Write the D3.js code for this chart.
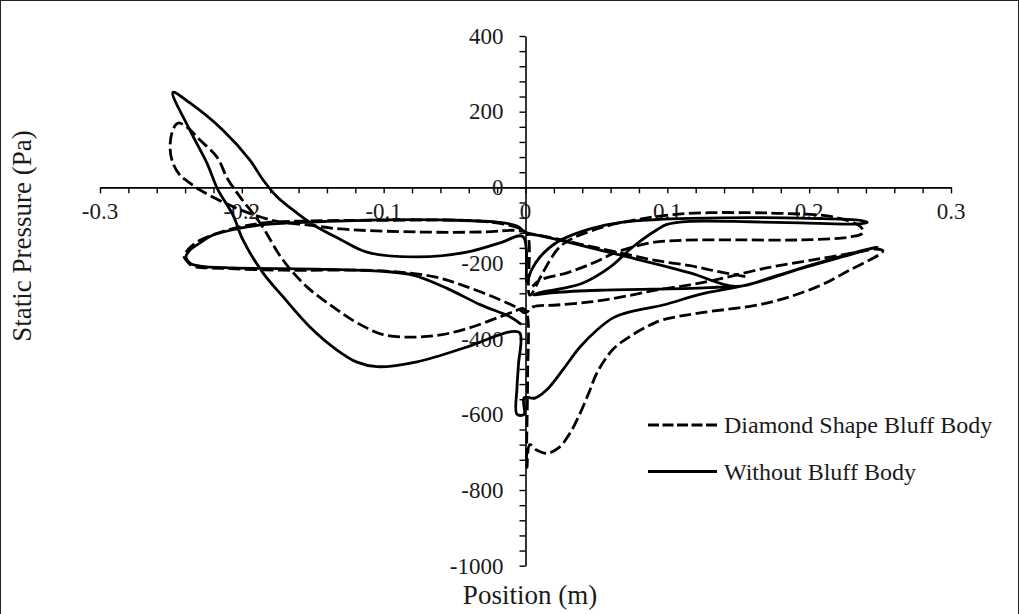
<!DOCTYPE html>
<html>
<head>
<meta charset="utf-8">
<script src="https://cdn.jsdelivr.net/npm/d3@7"></script>
<style>
  body { margin: 0; background: #fff; }
  svg { display: block; }
  text { font-family: "Liberation Serif", "Times New Roman", serif; fill: #1a1a1a; }
</style>
</head>
<body>
<svg id="chart" width="1019" height="614"></svg>
<script>
// Series names, ticks and labels
const seriesNames = ["Diamond Shape Bluff Body", "Without Bluff Body"];
const xMajorTicks = [-0.3, -0.2, -0.1, 0, 0.1, 0.2, 0.3];
const xTickLabels = ["-0.3", "-0.2", "-0.1", "0", "0.1", "0.2", "0.3"];
const yMajorTicks = [400, 200, 0, -200, -400, -600, -800, -1000];
const yTickLabels = ["400", "200", "0", "-200", "-400", "-600", "-800", "-1000"];
const axisTitles = { x: "Position (m)", y: "Static Pressure (Pa)" };

// Static pressure along the sampling line, in export order: [position (m), pressure (Pa)]
const diamondShape = [
  [0.155,-236],[0.135,-222],[0.116,-207],[0.0927,-194],[0.0688,-175],[0.0455,-156],[0.0222,-136],[0.006,-124],[0.001,-120],
  [-0.006,-106],[-0.03,-90],[-0.1005,-87],[-0.152,-89],[-0.1823,-93],[-0.2063,-109],[-0.2295,-140],[-0.238,-165],[-0.2408,-182],
  [-0.238,-198],[-0.2345,-208],[-0.2084,-215],[-0.171,-219],[-0.1005,-221],[-0.0649,-236],[-0.0413,-263],[-0.018,-297],[-0.006,-318],[0,-332],
  [0.0053,-316],[0.0222,-311],[0.0455,-303],[0.0688,-289],[0.0927,-271],[0.116,-258],[0.137,-242],[0.17,-213],[0.2055,-190],[0.236,-170],[0.247,-163],[0.252,-168],
  [0.25,-176],[0.229,-218],[0.2055,-263],[0.17,-306],[0.123,-332],[0.097,-350],[0.0857,-368],[0.0737,-394],[0.0617,-428],[0.0504,-490],[0.045,-540],[0.0384,-598],[0.031,-652],[0.0235,-688],[0.0152,-703],[0.0081,-695],[0.003,-680],[0.001,-740],
  [0.0015,-500],[0.001,-335],[-0.002,-320],
  [-0.008,-328],[-0.02,-345],[-0.04,-372],[-0.06,-390],[-0.08,-396],[-0.1005,-389],[-0.1188,-358],[-0.1357,-316],[-0.1541,-263],[-0.171,-192],[-0.1872,-94],[-0.2013,-25],[-0.21,22],[-0.2175,80],[-0.2295,125],[-0.2387,159],[-0.245,170],
  [-0.2486,152],[-0.2506,106],[-0.2486,64],[-0.2436,32],[-0.2387,17],[-0.2295,-7],[-0.2133,-39],[-0.1964,-66],[-0.1752,-90],[-0.1541,-99],[-0.1308,-110],[-0.0765,-118],[-0.03,-118],[-0.006,-114],[0.001,-121],
  [0.003,-285],[0.0102,-240],[0.0173,-192],[0.0243,-157],[0.0335,-134],[0.0575,-102],[0.0807,-84],[0.104,-72],[0.13,-67],[0.1583,-67],[0.1815,-69],[0.2168,-78],[0.2359,-103],[0.238,-120],
  [0.229,-131],[0.1936,-139],[0.15,-139],[0.111,-140],[0.0878,-147],[0.0645,-171],[0.0476,-200],[0.0293,-226],[0.0102,-245],[0.005,-262]
];

const withoutBluff = [
  [0.148,-262],[0.135,-264],[0.116,-267],[0.0525,-272],[0.02,-278],[0.0053,-284],
  [0.0123,-276],[0.025,-268],[0.0405,-253],[0.0596,-211],[0.0758,-157],[0.0927,-112],[0.0998,-98],[0.116,-90],[0.158,-91],[0.194,-94],[0.225,-97],[0.237,-96],[0.241,-92],
  [0.236,-87],[0.2,-82],[0.16,-80],[0.116,-82],[0.0927,-85],[0.0688,-92],[0.0455,-110],[0.0222,-145],[0.0102,-184],[0.004,-220],[0.001,-250],
  [-0.0018,-130],[-0.018,-147],[-0.0413,-171],[-0.0765,-184],[-0.1118,-171],[-0.1308,-137],[-0.147,-105],[-0.1611,-68],[-0.1752,-25],[-0.1851,20],[-0.1943,72],[-0.2133,151],[-0.2366,223],[-0.2486,251],
  [-0.2366,151],[-0.2246,64],[-0.2168,-7],[-0.2063,-73],[-0.1992,-139],[-0.1851,-226],[-0.171,-289],[-0.152,-369],[-0.1329,-430],[-0.1188,-462],[-0.1047,-474],[-0.0765,-461],[-0.0413,-422],[-0.011,-382],[-0.004,-385],
  [-0.005,-470],[-0.006,-530],[-0.006,-600],[-0.001,-600],[-0.001,-556],[0.0067,-557],
  [0.015,-535],[0.0264,-482],[0.0384,-422],[0.0504,-377],[0.0617,-345],[0.0737,-329],[0.097,-311],[0.123,-283],[0.1583,-256],[0.194,-215],[0.225,-182],[0.248,-157],
  [0.225,-180],[0.2,-207],[0.175,-236],[0.148,-262],
  [0.116,-226],[0.07,-182],[0.03,-145],[0.008,-126],[0.001,-122],
  [-0.006,-102],[-0.02,-92],[-0.06,-86],[-0.1005,-86],[-0.147,-91],[-0.171,-95],[-0.19,-101],[-0.2063,-112],[-0.2215,-128],[-0.2295,-147],[-0.2366,-166],[-0.2394,-184],
  [-0.2366,-200],[-0.2295,-208],[-0.2063,-213],[-0.147,-216],[-0.1005,-222],[-0.0793,-232],[-0.0553,-267],[-0.032,-310],[-0.011,-342],[-0.003,-362]
];

const svg = d3.select("#chart");
const W = 1019, H = 614;
const TICK_FONT = 23, LEGEND_FONT = 24, TITLE_FONT = 27;

// Outer chart frame
svg.append("rect")
  .attr("x", 0.5).attr("y", 0.5)
  .attr("width", W - 1).attr("height", H + 10)
  .attr("fill", "#fff").attr("stroke", "#222").attr("stroke-width", 1);

const x = d3.scaleLinear().domain([-0.3, 0.3]).range([100, 951]);
const y = d3.scaleLinear().domain([-1000, 400]).range([565.7, 36]);

const xMinor = d3.range(-30, 31, 2).map(v => v / 100);
const yMinor = d3.range(-1000, 401, 40);

// Horizontal axis crosses at pressure 0
const gx = svg.append("g").attr("transform", `translate(0,${y(0)})`);
gx.call(d3.axisBottom(x).tickValues(xMinor).tickSize(6).tickSizeOuter(0).tickFormat(""));
gx.selectAll("path.domain").attr("stroke", "#000").attr("stroke-width", 1.6);
gx.selectAll(".tick line").attr("stroke", "#000").attr("stroke-width", 1.4);

gx.selectAll("text.xlab")
  .data(xMajorTicks)
  .enter().append("text")
  .attr("class", "xlab")
  .attr("x", d => x(d))
  .attr("y", 31.5)
  .attr("text-anchor", "middle")
  .style("font-size", TICK_FONT + "px")
  .text((d, i) => xTickLabels[i]);

// Vertical axis crosses at position 0
const gy = svg.append("g").attr("transform", `translate(${x(0)},0)`);
gy.call(d3.axisLeft(y).tickValues(yMinor).tickSize(6).tickSizeOuter(0).tickFormat(""));
gy.selectAll("path.domain").attr("stroke", "#000").attr("stroke-width", 1.6);
gy.selectAll(".tick line").attr("stroke", "#000").attr("stroke-width", 1.4);

gy.selectAll("text.ylab")
  .data(yMajorTicks)
  .enter().append("text")
  .attr("class", "ylab")
  .attr("x", -22)
  .attr("y", d => y(d))
  .attr("dy", "0.34em")
  .attr("text-anchor", "end")
  .style("font-size", TICK_FONT + "px")
  .text((d, i) => yTickLabels[i]);

// Pressure curves
const line = d3.line()
  .x(d => x(d[0]))
  .y(d => y(d[1]))
  .curve(d3.curveCatmullRom.alpha(0.5));

const series = [
  { name: seriesNames[0], data: diamondShape, dash: "12,4.5" },
  { name: seriesNames[1], data: withoutBluff, dash: null }
];

svg.append("g").selectAll("path")
  .data(series)
  .enter().append("path")
  .attr("d", d => line(d.data))
  .attr("fill", "none")
  .attr("stroke", "#000")
  .attr("stroke-width", 2.8)
  .attr("stroke-linejoin", "round")
  .attr("stroke-dasharray", d => d.dash);

// Legend
const legend = svg.append("g");
const legendY = [425, 471.5];
series.forEach((s, i) => {
  legend.append("line")
    .attr("x1", 648).attr("x2", 717)
    .attr("y1", legendY[i]).attr("y2", legendY[i])
    .attr("stroke", "#000").attr("stroke-width", 2.8)
    .attr("stroke-dasharray", s.dash ? "11,3.5" : null);
  legend.append("text")
    .attr("x", 724).attr("y", legendY[i])
    .attr("dy", "0.34em")
    .style("font-size", LEGEND_FONT + "px")
    .text(s.name);
});

// Axis titles
svg.append("text")
  .attr("x", 530).attr("y", 604)
  .attr("text-anchor", "middle")
  .style("font-size", TITLE_FONT + "px")
  .text(axisTitles.x);

svg.append("text")
  .attr("transform", `translate(31,236) rotate(-90)`)
  .attr("text-anchor", "middle")
  .style("font-size", TITLE_FONT + "px")
  .text(axisTitles.y);
</script>
</body>
</html>
